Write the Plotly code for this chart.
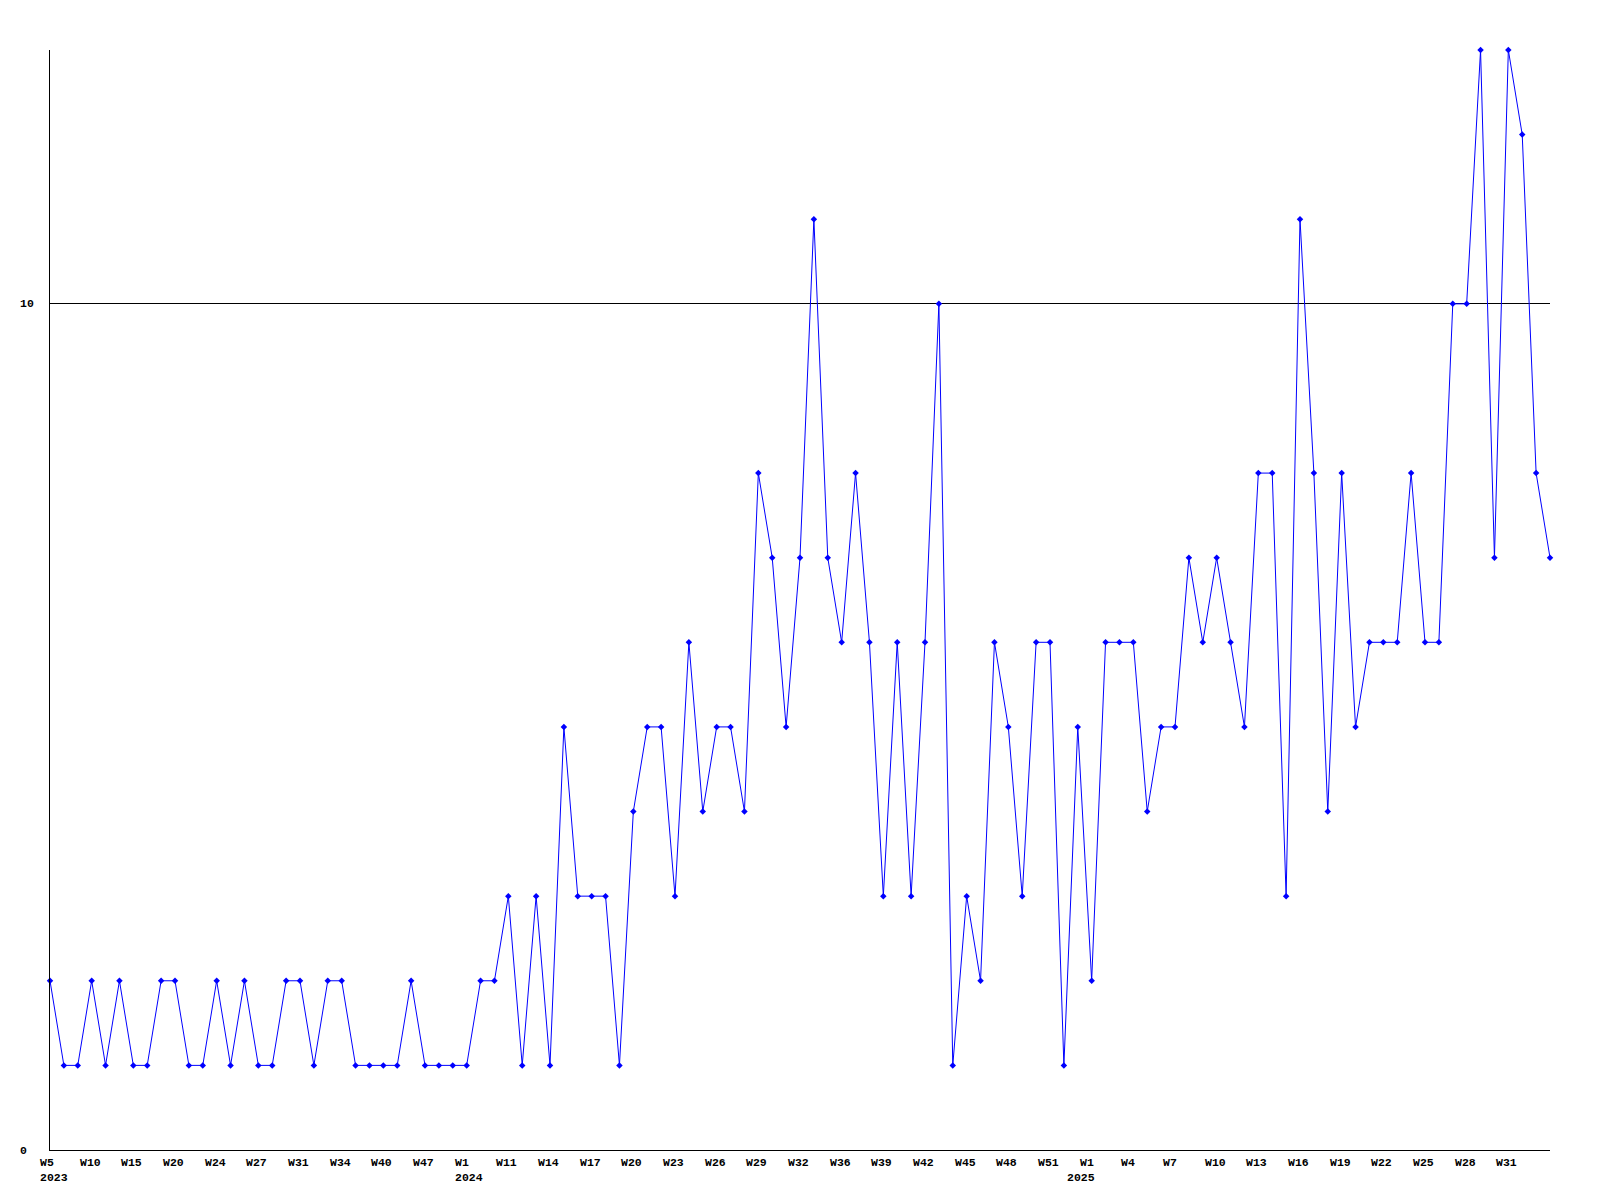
import plotly.graph_objects as go

values = [2, 1, 1, 2, 1, 2, 1, 1, 2, 2,
          1, 1, 2, 1, 2, 1, 1, 2, 2, 1,
          2, 2, 1, 1, 1, 1, 2, 1, 1, 1,
          1, 2, 2, 3, 1, 3, 1, 5, 3, 3,
          3, 1, 4, 5, 5, 3, 6, 4, 5, 5,
          4, 8, 7, 5, 7, 11, 7, 6, 8, 6,
          3, 6, 3, 6, 10, 1, 3, 2, 6, 5,
          3, 6, 6, 1, 5, 2, 6, 6, 6, 4,
          5, 5, 7, 6, 7, 6, 5, 8, 8, 3,
          11, 8, 4, 8, 5, 6, 6, 6, 8, 6,
          6, 10, 10, 13, 7, 13, 12, 8, 7]

week_labels = ["W5", "W10", "W15", "W20", "W24", "W27", "W31", "W34", "W40", "W47",
               "W1", "W11", "W14", "W17", "W20", "W23", "W26", "W29", "W32", "W36",
               "W39", "W42", "W45", "W48", "W51", "W1", "W4", "W7", "W10", "W13",
               "W16", "W19", "W22", "W25", "W28", "W31"]
label_step = 3
year_labels = {0: "2023", 10: "2024", 25: "2025"}  # label index -> year
y_ticks = [0, 10]

x = list(range(len(values)))
font = dict(family="Liberation Mono, Courier New, monospace", size=11.5, color="black", weight="bold")

fig = go.Figure()
fig.add_trace(go.Scatter(
    x=x, y=values, mode="lines+markers",
    line=dict(color="#0000ff", width=1),
    marker=dict(symbol="diamond", size=5, color="#0000ff"),
    cliponaxis=False, showlegend=False, hoverinfo="skip",
))

annotations = []
for i, lab in enumerate(week_labels):
    xi = i * label_step
    xs = -12 if i == 0 else -14
    annotations.append(dict(x=xi, y=0, xref="x", yref="y", text=lab, showarrow=False,
                            xanchor="left", yanchor="middle", xshift=xs, yshift=-12,
                            font=font))
    if i in year_labels:
        ys_x = xs - 13 if i == 25 else xs
        annotations.append(dict(x=xi, y=0, xref="x", yref="y", text=year_labels[i], showarrow=False,
                                xanchor="left", yanchor="middle", xshift=ys_x, yshift=-27,
                                font=font))
for v in y_ticks:
    annotations.append(dict(x=0, y=v, xref="paper", yref="y", text=str(v), showarrow=False,
                            xanchor="left", yanchor="middle", xshift=-32, font=font))

fig.update_layout(
    width=1600, height=1200,
    margin=dict(l=42, r=58, t=42, b=58, pad=0),
    paper_bgcolor="white", plot_bgcolor="white",
    annotations=annotations,
    xaxis=dict(range=[0, len(values) - 1], showgrid=False, zeroline=False,
               showline=True, linecolor="black", linewidth=1, showticklabels=False, ticks=""),
    yaxis=dict(range=[0, 13], tickvals=y_ticks, showticklabels=False, ticks="",
               showgrid=True, gridcolor="black", gridwidth=1, zeroline=False,
               showline=True, linecolor="black", linewidth=1),
)

fig.write_html("out.html")
